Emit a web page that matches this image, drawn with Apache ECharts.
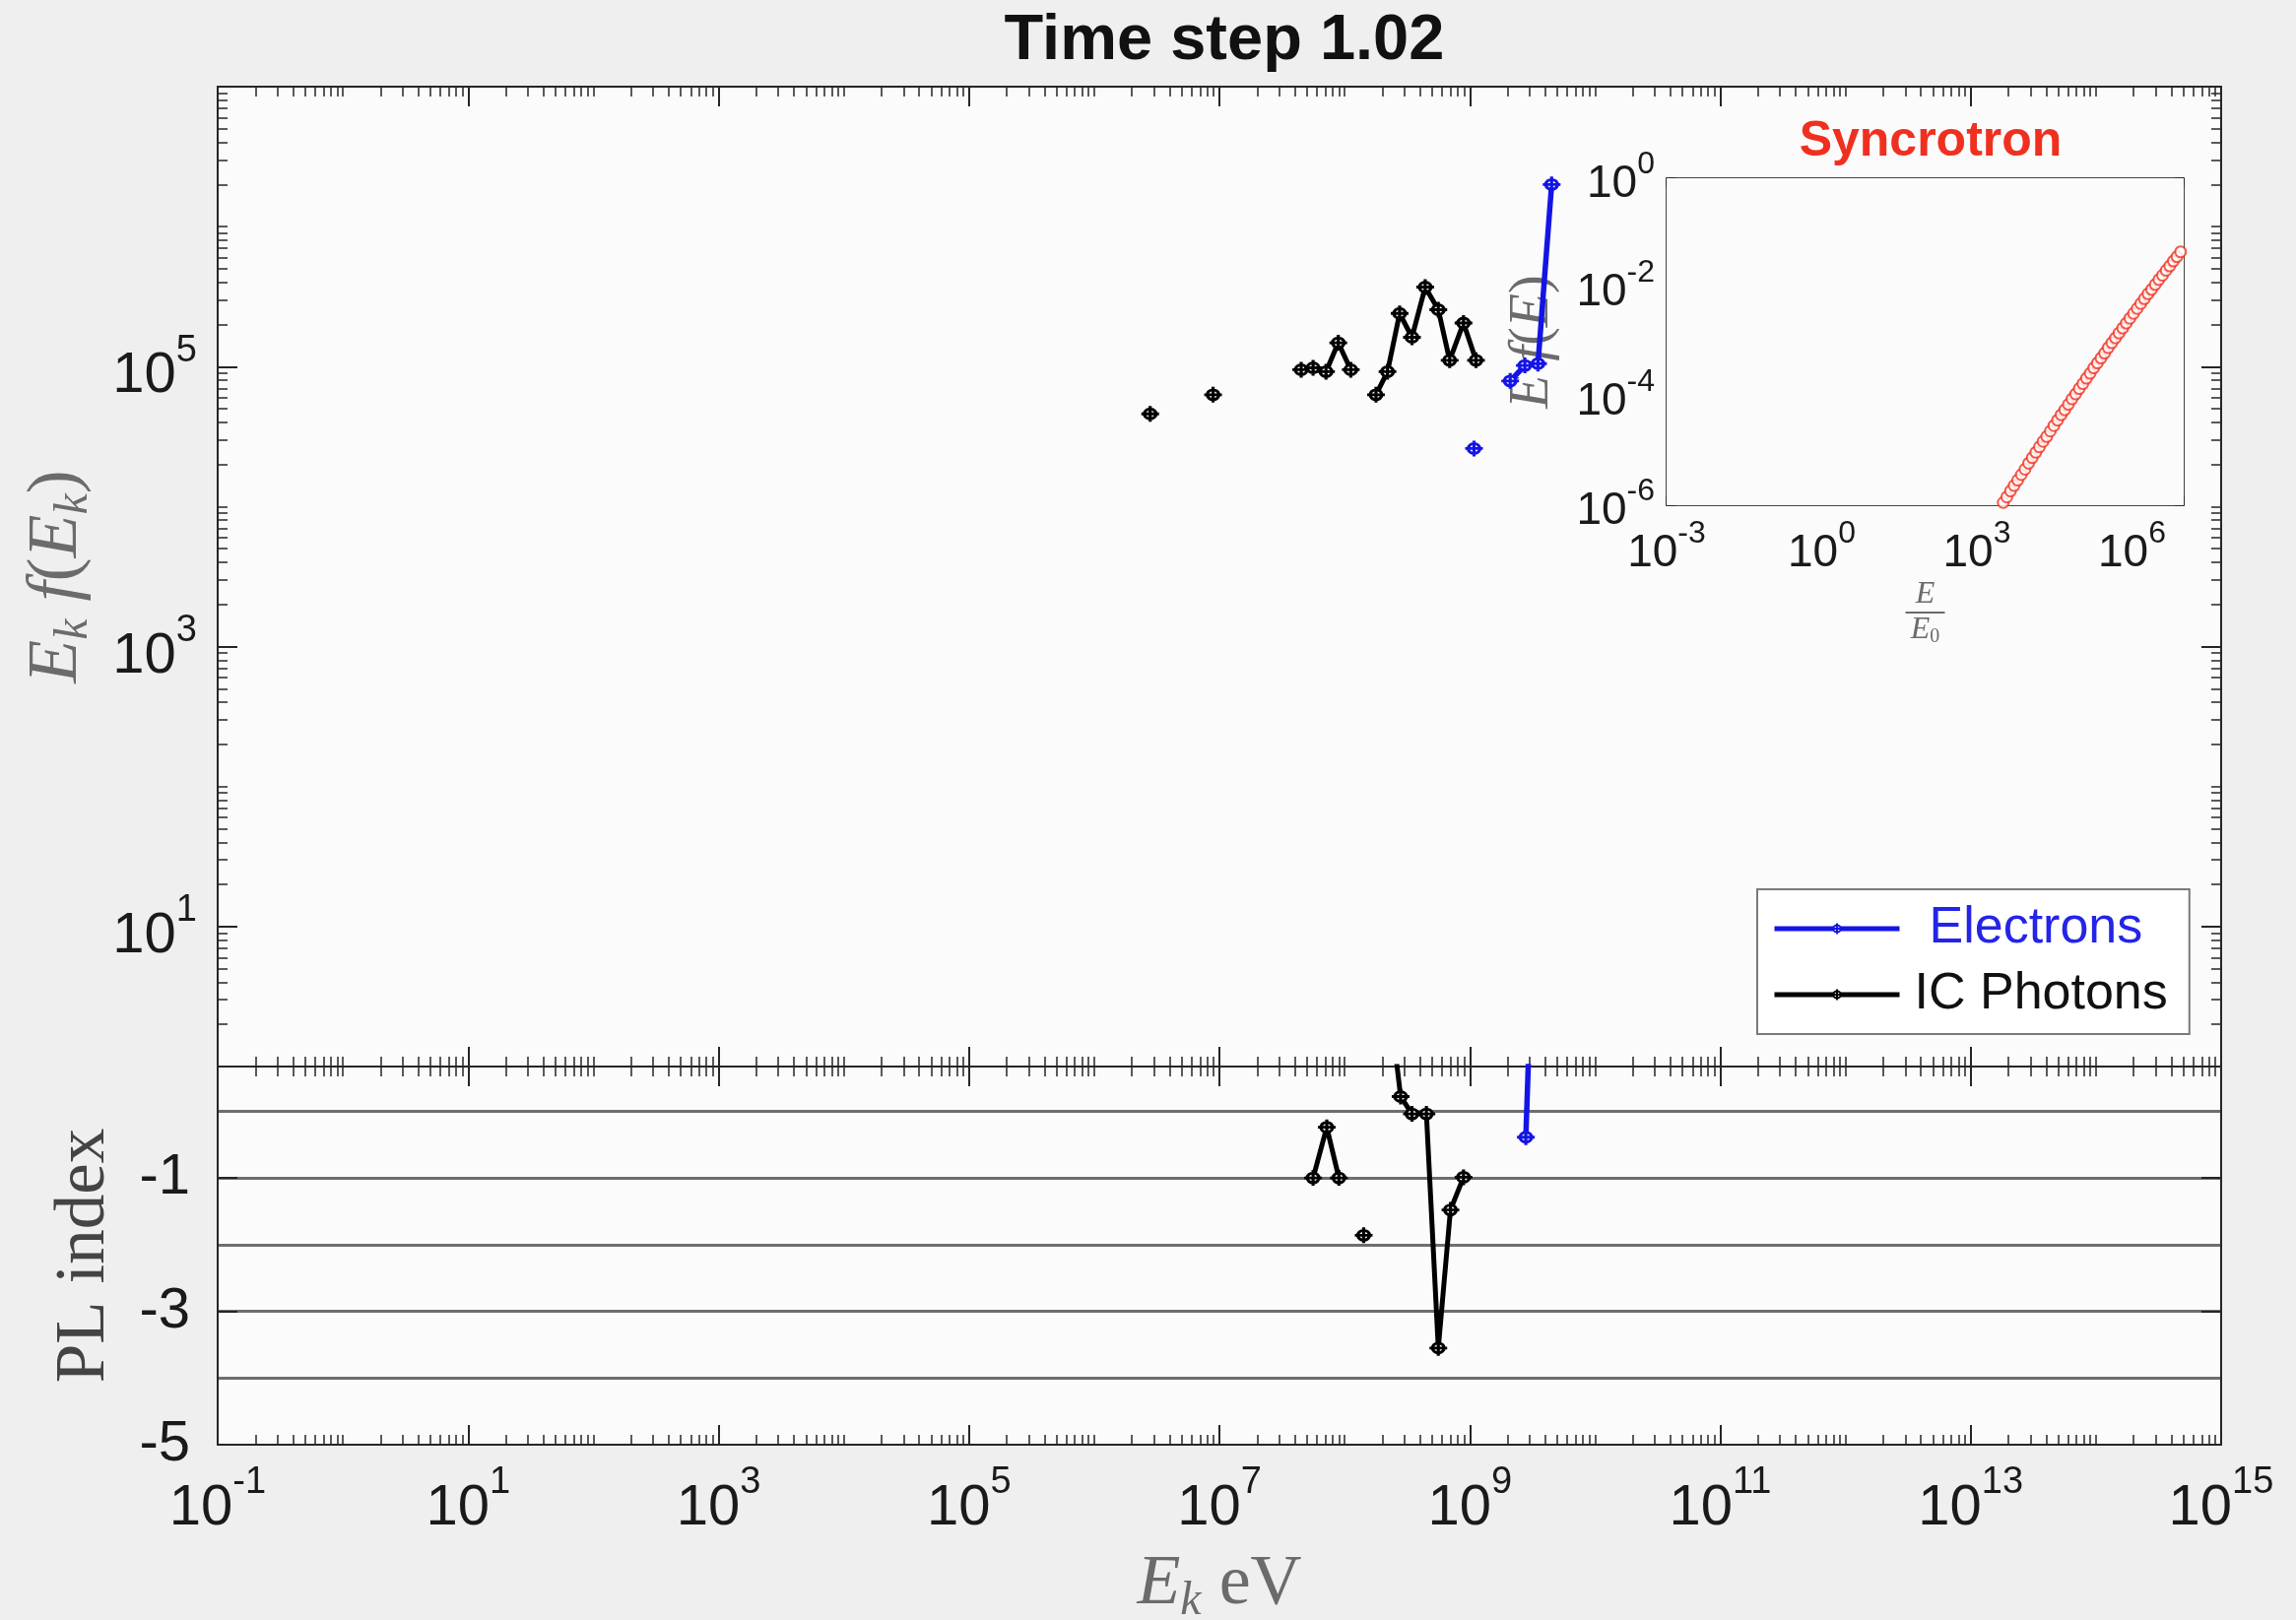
<!DOCTYPE html>
<html><head><meta charset="utf-8">
<script src="https://cdn.jsdelivr.net/npm/echarts@6/dist/echarts.min.js"></script>
<style>html,body{margin:0;padding:0;background:#efefef;}#c{width:2331px;height:1645px;}</style>
</head><body><div id="c"></div>
<script>
// ---------- data ----------
// IC photon spectrum  E_k [eV]  vs  E_k f(E_k)   (null = gap)
const icEnergy = [2.8e6, 5.0e6, 8.9e6, 1.4e7, 4.5e7, 5.6e7, 7.1e7, 8.9e7, 1.12e8, 1.41e8, 1.78e8, 2.2e8, 2.75e8, 3.45e8, 4.4e8, 5.6e8, 6.9e8, 8.9e8, 1.12e9];
const icFlux   = [4.6e4, null, 6.3e4, null, 9.5e4, 9.8e4, 9.2e4, 1.48e5, 9.5e4, null, 6.3e4, 9.2e4, 2.4e5, 1.62e5, 3.7e5, 2.55e5, 1.11e5, 2.05e5, 1.11e5];
// Electron spectrum
const elEnergy = [1.08e9, 1.6e9, 2.1e9, 2.75e9, 3.5e9, 4.5e9];
const elFlux   = [2.6e4, null, 7.9e4, 1.02e5, 1.05e5, 2.0e6];
// Power-law index (lower panel)
const icPLEnergy = [5.6e7, 7.2e7, 9.0e7, 1.12e8, 1.42e8, 1.78e8, 2.2e8, 2.8e8, 3.45e8, 4.5e8, 5.6e8, 7.0e8, 8.9e8];
const icPL       = [-1.0, -0.24, -1.0, null, -1.86, null, 1.9, 0.22, -0.04, -0.04, -3.55, -1.48, -0.99];
const elPLEnergy = [2.8e9, 3.5e9];
const elPL       = [-0.39, 5.0];
// Synchrotron inset: log10(E/E0) and log10(E f(E))
const synLogE = [3.44,3.51,3.58,3.65,3.72,3.79,3.86,3.93,4.00,4.07,4.14,4.21,4.28,4.35,4.42,4.49,4.56,4.63,4.70,4.77,4.84,4.91,4.98,5.05,5.12,5.19,5.26,5.33,5.40,5.47,5.54,5.61,5.68,5.75,5.82,5.89,5.96,6.03,6.10,6.17,6.24,6.31,6.38,6.45,6.52,6.59,6.66,6.73,6.80,6.87,6.94];
const synLogF = [-6.05,-5.95,-5.85,-5.74,-5.64,-5.54,-5.44,-5.34,-5.23,-5.13,-5.03,-4.93,-4.83,-4.74,-4.64,-4.54,-4.44,-4.34,-4.25,-4.15,-4.05,-3.96,-3.86,-3.77,-3.67,-3.58,-3.48,-3.39,-3.30,-3.21,-3.11,-3.02,-2.93,-2.84,-2.75,-2.66,-2.57,-2.48,-2.39,-2.30,-2.21,-2.12,-2.04,-1.95,-1.86,-1.78,-1.69,-1.61,-1.52,-1.44,-1.35];
// tick labels
const xMainLabelExp = [-1, 1, 3, 5, 7, 9, 11, 13, 15];
const yMainLabelExp = [1, 3, 5];
const yPLLabels = [-5, -3, -1];
const yPLLines = [-4, -3, -2, -1, 0];
const xInsetLabelExp = [-3, 0, 3, 6];
const yInsetLabelExp = [-6, -4, -2, 0];

// ---------- styling ----------
const SANS = "'Liberation Sans', Arial, Helvetica, sans-serif";
const SERIF = "'Liberation Serif', 'Times New Roman', serif";
const AX = '#262626';
const TXT = '#1a1a1a';
const GRAYLBL = '#6b6b6b';
const BLUE = '#1414e6';
const RED = '#f0301f';
const BG = '#fbfbfb';

const pow10 = e => Math.pow(10, e);
// nudge a value a hair inside the axis extent so edge labels/ticks are kept
const inside = (v, max) => (v >= max ? v * (1 - 1e-9) : v);
function decades(lo, hi) { const a = []; for (let e = lo; e <= hi; e++) a.push(pow10(e)); return a; }
function minors(lo, hi, majorExp) {
  const a = [];
  for (let e = lo; e < hi; e++) for (let k = 2; k <= 9; k++) a.push(k * pow10(e));
  for (let e = lo; e <= hi; e++) if (!majorExp.includes(e)) a.push(pow10(e));
  return a.sort((p, q) => p - q);
}
const supRich = (b, s, pb, ps) => ({
  b: { fontSize: b, fontFamily: SANS, color: TXT, lineHeight: b, padding: [pb, 0, 0, 0] },
  s: { fontSize: s, fontFamily: SANS, color: TXT, lineHeight: s, padding: [0, 0, ps, 0] }
});
const expFmt = v => '{b|10}{s|' + Math.round(Math.log10(v)) + '}';

function axisBase(kind, grid, pos, min, max, extra) {
  const o = {
    gridIndex: grid, type: kind, position: pos, min: min, max: max,
    axisLine: { show: false, onZero: false, lineStyle: { color: AX, width: 2 } },
    axisTick: { show: false },
    axisLabel: { show: false },
    splitLine: { show: false },
    minorTick: { show: false },
    minorSplitLine: { show: false }
  };
  if (kind === 'log') o.logBase = 10;
  return Object.assign(o, extra || {});
}
function ticks(vals, len, w) {
  return { show: true, inside: true, length: len, customValues: vals, lineStyle: { color: AX, width: w || 2 } };
}
const lineOn = (c) => ({ show: true, onZero: false, lineStyle: { color: c || AX, width: 2 } });

const mainXMajor = xMainLabelExp.map(pow10).map(v => inside(v, 1e15));
const mainXMinor = minors(-1, 15, xMainLabelExp).map(v => inside(v, 1e15));
const mainYMajor = yMainLabelExp.map(pow10);
const mainYMinor = minors(0, 7, yMainLabelExp).map(v => inside(v, 1e7));
const insXTicks = decades(-3, 7).map(v => inside(v, 1e7));
const insYTicks = decades(-6, 0).map(v => inside(v, 1));
const insYMinor = minors(-6, 0, [-6,-5,-4,-3,-2,-1,0]);

const bigRich = {
  i: { fontSize: 72, fontFamily: SERIF, fontStyle: 'italic', color: GRAYLBL, lineHeight: 72 },
  k: { fontSize: 48, fontFamily: SERIF, fontStyle: 'italic', color: GRAYLBL, lineHeight: 48, padding: [34, 0, 0, 0] },
  r: { fontSize: 72, fontFamily: SERIF, color: GRAYLBL, lineHeight: 72 }
};

const xAxes = [
  // upper panel
  axisBase('log', 0, 'bottom', 0.1, 1e15, { axisLine: lineOn(), axisTick: ticks(mainXMajor, 20) }),
  axisBase('log', 0, 'bottom', 0.1, 1e15, { axisTick: ticks(mainXMinor, 10, 1.5) }),
  axisBase('log', 0, 'top', 0.1, 1e15, { axisLine: lineOn(), axisTick: ticks(mainXMajor, 20) }),
  axisBase('log', 0, 'top', 0.1, 1e15, { axisTick: ticks(mainXMinor, 10, 1.5) }),
  // lower panel
  axisBase('log', 1, 'bottom', 0.1, 1e15, {
    axisLine: lineOn(),
    axisTick: ticks(mainXMajor, 20),
    axisLabel: { show: true, customValues: mainXMajor, showMinLabel: true, showMaxLabel: true, hideOverlap: false,
                 margin: 26, formatter: expFmt, rich: supRich(58, 38, 20, 32) },
    name: '{i|E}{k|k}{r| eV}', nameLocation: 'middle', nameGap: 106,
    nameTextStyle: { rich: bigRich }
  }),
  axisBase('log', 1, 'bottom', 0.1, 1e15, { axisTick: ticks(mainXMinor, 10, 1.5) }),
  axisBase('log', 1, 'top', 0.1, 1e15, { axisLine: lineOn(), axisTick: ticks(mainXMajor, 20) }),
  axisBase('log', 1, 'top', 0.1, 1e15, { axisTick: ticks(mainXMinor, 10, 1.5) }),
  // inset
  axisBase('log', 2, 'bottom', 1e-3, 1e7, {
    axisLine: lineOn('#444'),
    axisTick: ticks(insXTicks, 9, 1.5),
    axisLabel: { show: true, customValues: xInsetLabelExp.map(pow10), showMinLabel: true, showMaxLabel: true,
                 margin: 20, formatter: expFmt, rich: supRich(46, 32, 12, 28) },
    name: '{n|E}\n{bar|}\n{n|E}{z|0}', nameLocation: 'middle', nameGap: 76,
    nameTextStyle: { align: 'center', rich: {
      n: { fontSize: 32, fontFamily: SERIF, fontStyle: 'italic', color: GRAYLBL, lineHeight: 30, align: 'center' },
      z: { fontSize: 20, fontFamily: SERIF, color: GRAYLBL, lineHeight: 20, padding: [14, 0, 0, 0] },
      bar: { width: 40, height: 2, lineHeight: 6, backgroundColor: GRAYLBL, align: 'center' } } }
  }),
  axisBase('log', 2, 'top', 1e-3, 1e7, { axisLine: lineOn('#444'), axisTick: ticks(insXTicks, 9, 1.5) })
];

const yAxes = [
  // upper panel
  axisBase('log', 0, 'left', 1, 1e7, {
    axisLine: lineOn(),
    axisTick: ticks(mainYMajor, 20),
    axisLabel: { show: true, customValues: mainYMajor, margin: 21, formatter: expFmt, rich: supRich(58, 38, 20, 32) },
    name: '{i|E}{k|k}{i| f}{r|(}{i|E}{k|k}{r|)}', nameLocation: 'middle', nameGap: 127,
    nameTextStyle: { rich: bigRich }
  }),
  axisBase('log', 0, 'left', 1, 1e7, { axisTick: ticks(mainYMinor, 10, 1.5) }),
  axisBase('log', 0, 'right', 1, 1e7, { axisLine: lineOn(), axisTick: ticks(mainYMajor, 20) }),
  axisBase('log', 0, 'right', 1, 1e7, { axisTick: ticks(mainYMinor, 10, 1.5) }),
  // lower panel
  axisBase('value', 1, 'left', -5, 0.67, {
    axisLine: lineOn(),
    axisTick: ticks(yPLLabels, 20),
    axisLabel: { show: true, customValues: yPLLabels, showMinLabel: true, margin: 28, fontSize: 58, fontFamily: SANS, color: TXT, formatter: v => String(v) },
    name: 'PL index', nameLocation: 'middle', nameGap: 99,
    nameTextStyle: { fontSize: 71, fontFamily: SERIF, color: '#444', lineHeight: 71 }
  }),
  axisBase('value', 1, 'left', -5, 0.67, {
    axisTick: { show: true, inside: true, length: 0, customValues: yPLLines, lineStyle: { width: 0 } },
    splitLine: { show: true, lineStyle: { color: '#6e6e6e', width: 3 } }
  }),
  axisBase('value', 1, 'right', -5, 0.67, { axisLine: lineOn(), axisTick: ticks(yPLLabels, 20) }),
  // inset
  axisBase('log', 2, 'left', 1e-6, 1, {
    axisLine: lineOn('#444'),
    axisTick: ticks(insYTicks, 9, 1.5),
    axisLabel: { show: true, customValues: yInsetLabelExp.map(pow10), showMinLabel: true, showMaxLabel: true,
                 margin: 12, formatter: expFmt, rich: supRich(46, 32, 12, 28) },
    name: '{i|E}{i| f}{r|(}{i|E}{r|)}', nameLocation: 'middle', nameGap: 108,
    nameTextStyle: { rich: {
      i: { fontSize: 56, fontFamily: SERIF, fontStyle: 'italic', color: GRAYLBL, lineHeight: 56 },
      r: { fontSize: 56, fontFamily: SERIF, color: GRAYLBL, lineHeight: 56 } } }
  }),
  axisBase('log', 2, 'left', 1e-6, 1, { axisTick: ticks(insYMinor, 5, 1.2) }),
  axisBase('log', 2, 'right', 1e-6, 1, { axisLine: lineOn('#444'), axisTick: ticks(insYTicks, 9, 1.5) }),
  axisBase('log', 2, 'right', 1e-6, 1, { axisTick: ticks(insYMinor, 5, 1.2) })
];

const MARK = 'path://M0,-8L0,8M-9,0L9,0M-6,0A6,5,0,1,0,6,0A6,5,0,1,0,-6,0Z';
const pairs = (xs, ys) => xs.map((x, i) => [x, ys[i]]);

function lineSeries(name, xi, yi, data, color, width) {
  return {
    name: name, type: 'line', xAxisIndex: xi, yAxisIndex: yi, data: data,
    connectNulls: false, showSymbol: true, symbol: MARK, symbolSize: [18, 16],
    lineStyle: { color: color, width: width },
    itemStyle: { color: BG, borderColor: color, borderWidth: 3 },
    emphasis: { disabled: true }, z: 5
  };
}

const option = {
  backgroundColor: '#efefef',
  animation: false,
  title: [
    { text: 'Time step 1.02', left: 1238, top: 5, textAlign: 'center',
      textStyle: { fontSize: 65, fontWeight: 'bold', fontFamily: SANS, color: '#111' } },
    { text: 'Syncrotron', left: 1955, top: 114, textAlign: 'center',
      textStyle: { fontSize: 50, fontWeight: 'bold', fontFamily: SANS, color: RED } }
  ],
  grid: [
    { left: 221, top: 88, width: 2034, height: 995, show: true, backgroundColor: BG, borderWidth: 0, containLabel: false, outerBoundsMode: 'none' },
    { left: 221, top: 1083, width: 2034, height: 384, show: true, backgroundColor: BG, borderWidth: 0, containLabel: false, outerBoundsMode: 'none' },
    { left: 1692, top: 181, width: 525, height: 332, show: true, backgroundColor: BG, borderWidth: 0, containLabel: false, outerBoundsMode: 'none', z: 3 }
  ],
  xAxis: xAxes,
  yAxis: yAxes,
  legend: {
    orient: 'vertical', left: 1784, top: 903,
    padding: [12, 22, 12, 15], itemGap: 11, itemWidth: 127, itemHeight: 14,
    backgroundColor: '#ffffff', borderColor: '#7a7a7a', borderWidth: 2, borderRadius: 0,
    lineStyle: { width: 5 },
    textStyle: { fontSize: 52, fontFamily: SANS, lineHeight: 56 },
    data: [
      { name: 'Electrons', textStyle: { color: '#2424e8', padding: [0, 0, 0, 25] } },
      { name: 'IC Photons', textStyle: { color: '#111', padding: [0, 0, 0, 10] } }
    ],
    selectedMode: false
  },
  series: [
    lineSeries('IC Photons', 0, 0, pairs(icEnergy, icFlux), '#000000', 5),
    lineSeries('Electrons', 0, 0, pairs(elEnergy, elFlux), BLUE, 5.5),
    lineSeries('IC Photons PL', 4, 4, pairs(icPLEnergy, icPL), '#000000', 5),
    lineSeries('Electrons PL', 4, 4, pairs(elPLEnergy, elPL), BLUE, 5.5),
    {
      name: 'Syncrotron', type: 'scatter', xAxisIndex: 8, yAxisIndex: 7,
      data: synLogE.map((e, i) => [pow10(e), pow10(synLogF[i])]),
      symbol: 'emptyCircle', symbolSize: 11,
      itemStyle: { color: RED, borderColor: RED, borderWidth: 1.5 },
      emphasis: { disabled: true }, z: 6, clip: true
    }
  ]
};

const chart = echarts.init(document.getElementById('c'), null, { renderer: 'canvas' });
chart.setOption(option);
</script>
</body></html>
